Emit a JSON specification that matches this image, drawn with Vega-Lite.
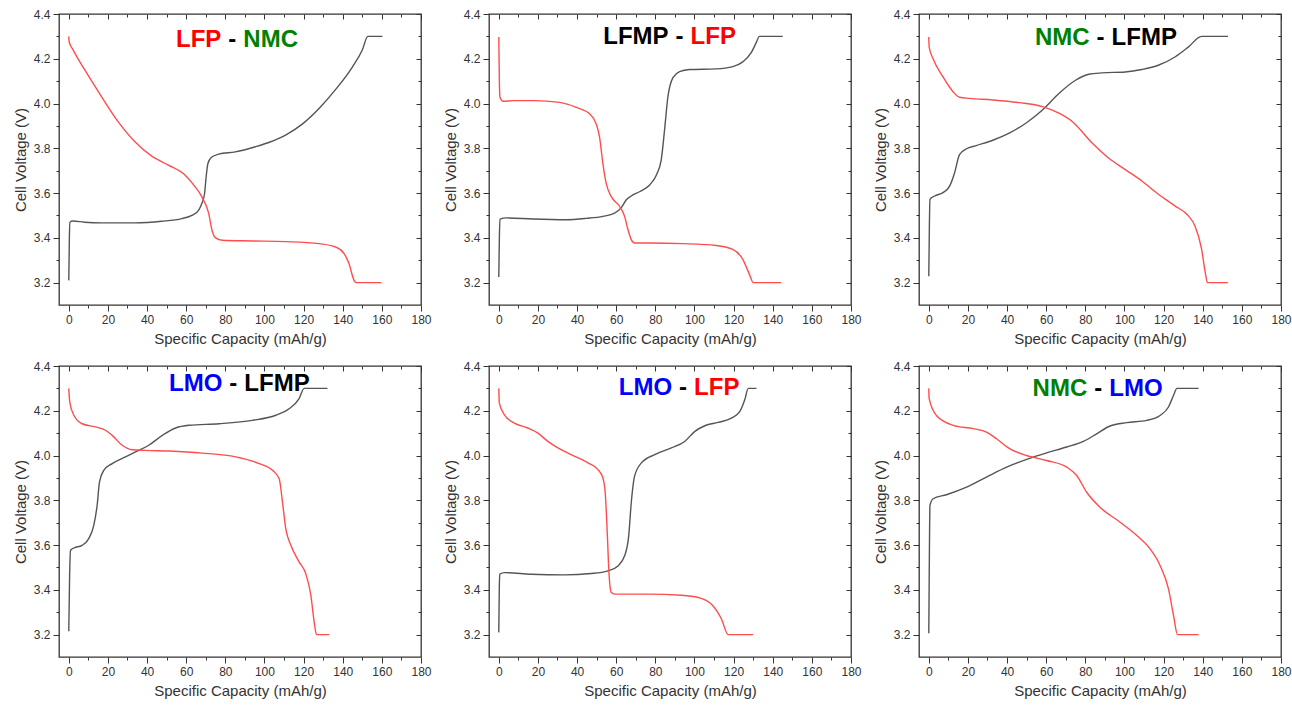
{
"$schema":"https://vega.github.io/schema/vega-lite/v6.json",
"background":"white",
"padding":{"left":12,"top":7,"right":5,"bottom":5},
"bounds":"flush",
"columns":3,
"spacing":{"row":61,"column":68},
"datasets":{
"p1":[
{"curve":"charge","cap":0,"volt":3.21},{"curve":"charge","cap":0.3,"volt":3.40},{"curve":"charge","cap":0.6,"volt":3.47},{"curve":"charge","cap":2,"volt":3.475},{"curve":"charge","cap":8,"volt":3.47},{"curve":"charge","cap":16.8,"volt":3.467},{"curve":"charge","cap":33.8,"volt":3.467},{"curve":"charge","cap":47.5,"volt":3.474},{"curve":"charge","cap":57.8,"volt":3.486},{"curve":"charge","cap":62.9,"volt":3.50},{"curve":"charge","cap":66.3,"volt":3.523},{"curve":"charge","cap":68,"volt":3.553},{"curve":"charge","cap":69.4,"volt":3.598},{"curve":"charge","cap":70.2,"volt":3.673},{"curve":"charge","cap":71.1,"volt":3.732},{"curve":"charge","cap":72.8,"volt":3.759},{"curve":"charge","cap":76.6,"volt":3.774},{"curve":"charge","cap":85.1,"volt":3.784},{"curve":"charge","cap":95.4,"volt":3.807},{"curve":"charge","cap":102.2,"volt":3.826},{"curve":"charge","cap":110.8,"volt":3.859},{"curve":"charge","cap":119.3,"volt":3.908},{"curve":"charge","cap":127.9,"volt":3.978},{"curve":"charge","cap":136.4,"volt":4.063},{"curve":"charge","cap":145,"volt":4.164},{"curve":"charge","cap":150,"volt":4.239},{"curve":"charge","cap":152.8,"volt":4.30},{"curve":"charge","cap":160.3,"volt":4.30},
{"curve":"discharge","cap":0,"volt":4.30},{"curve":"discharge","cap":0.2,"volt":4.276},{"curve":"discharge","cap":2.2,"volt":4.24},{"curve":"discharge","cap":8.2,"volt":4.15},{"curve":"discharge","cap":16.8,"volt":4.03},{"curve":"discharge","cap":25.3,"volt":3.918},{"curve":"discharge","cap":33.8,"volt":3.829},{"curve":"discharge","cap":42.4,"volt":3.765},{"curve":"discharge","cap":50.9,"volt":3.725},{"curve":"discharge","cap":59.5,"volt":3.68},{"curve":"discharge","cap":64.6,"volt":3.628},{"curve":"discharge","cap":68,"volt":3.583},{"curve":"discharge","cap":71.5,"volt":3.509},{"curve":"discharge","cap":73.2,"volt":3.434},{"curve":"discharge","cap":74.9,"volt":3.401},{"curve":"discharge","cap":78.3,"volt":3.389},{"curve":"discharge","cap":93.7,"volt":3.386},{"curve":"discharge","cap":110.8,"volt":3.383},{"curve":"discharge","cap":127.9,"volt":3.374},{"curve":"discharge","cap":136.4,"volt":3.359},{"curve":"discharge","cap":140.7,"volt":3.33},{"curve":"discharge","cap":143.2,"volt":3.285},{"curve":"discharge","cap":145.8,"volt":3.21},{"curve":"discharge","cap":146.7,"volt":3.20},{"curve":"discharge","cap":159.8,"volt":3.20}
],
"p2":[
{"curve":"charge","cap":0,"volt":3.225},{"curve":"charge","cap":0.3,"volt":3.40},{"curve":"charge","cap":0.6,"volt":3.484},{"curve":"charge","cap":3.9,"volt":3.489},{"curve":"charge","cap":17.5,"volt":3.484},{"curve":"charge","cap":34.5,"volt":3.481},{"curve":"charge","cap":44.7,"volt":3.487},{"curve":"charge","cap":53.2,"volt":3.496},{"curve":"charge","cap":59.2,"volt":3.51},{"curve":"charge","cap":62.6,"volt":3.535},{"curve":"charge","cap":65.2,"volt":3.57},{"curve":"charge","cap":67.7,"volt":3.587},{"curve":"charge","cap":71.9,"volt":3.606},{"curve":"charge","cap":77.1,"volt":3.636},{"curve":"charge","cap":80.5,"volt":3.68},{"curve":"charge","cap":83,"volt":3.747},{"curve":"charge","cap":84.7,"volt":3.88},{"curve":"charge","cap":86.4,"volt":4.028},{"curve":"charge","cap":89,"volt":4.116},{"curve":"charge","cap":92.4,"volt":4.143},{"curve":"charge","cap":97.5,"volt":4.152},{"curve":"charge","cap":111,"volt":4.155},{"curve":"charge","cap":119.6,"volt":4.165},{"curve":"charge","cap":124.7,"volt":4.186},{"curve":"charge","cap":129,"volt":4.227},{"curve":"charge","cap":131.5,"volt":4.271},{"curve":"charge","cap":133.2,"volt":4.30},{"curve":"charge","cap":145.1,"volt":4.30},
{"curve":"discharge","cap":0,"volt":4.297},{"curve":"discharge","cap":0.3,"volt":4.10},{"curve":"discharge","cap":0.6,"volt":4.028},{"curve":"discharge","cap":2.2,"volt":4.01},{"curve":"discharge","cap":7.3,"volt":4.013},{"curve":"discharge","cap":17.5,"volt":4.013},{"curve":"discharge","cap":31.1,"volt":4.005},{"curve":"discharge","cap":39.6,"volt":3.983},{"curve":"discharge","cap":46.4,"volt":3.954},{"curve":"discharge","cap":49.8,"volt":3.909},{"curve":"discharge","cap":51.5,"volt":3.85},{"curve":"discharge","cap":53.2,"volt":3.732},{"curve":"discharge","cap":54.9,"volt":3.643},{"curve":"discharge","cap":57.5,"volt":3.584},{"curve":"discharge","cap":61.8,"volt":3.54},{"curve":"discharge","cap":64.3,"volt":3.496},{"curve":"discharge","cap":66,"volt":3.437},{"curve":"discharge","cap":67.7,"volt":3.392},{"curve":"discharge","cap":69.4,"volt":3.377},{"curve":"discharge","cap":77.1,"volt":3.377},{"curve":"discharge","cap":94.1,"volt":3.374},{"curve":"discharge","cap":111.1,"volt":3.366},{"curve":"discharge","cap":119.6,"volt":3.348},{"curve":"discharge","cap":124.7,"volt":3.304},{"curve":"discharge","cap":128.1,"volt":3.237},{"curve":"discharge","cap":130.1,"volt":3.20},{"curve":"discharge","cap":144.3,"volt":3.20}
],
"p3":[
{"curve":"charge","cap":0,"volt":3.228},{"curve":"charge","cap":0.3,"volt":3.45},{"curve":"charge","cap":0.6,"volt":3.572},{"curve":"charge","cap":3,"volt":3.587},{"curve":"charge","cap":7.3,"volt":3.602},{"curve":"charge","cap":10.7,"volt":3.632},{"curve":"charge","cap":13.2,"volt":3.691},{"curve":"charge","cap":15.7,"volt":3.772},{"curve":"charge","cap":19.1,"volt":3.797},{"curve":"charge","cap":24.2,"volt":3.812},{"curve":"charge","cap":32.7,"volt":3.836},{"curve":"charge","cap":41.1,"volt":3.868},{"curve":"charge","cap":49.6,"volt":3.912},{"curve":"charge","cap":58.1,"volt":3.971},{"curve":"charge","cap":66.5,"volt":4.045},{"curve":"charge","cap":75,"volt":4.104},{"curve":"charge","cap":81.8,"volt":4.131},{"curve":"charge","cap":88.6,"volt":4.137},{"curve":"charge","cap":100.4,"volt":4.141},{"curve":"charge","cap":108.9,"volt":4.152},{"curve":"charge","cap":117.3,"volt":4.171},{"curve":"charge","cap":125.8,"volt":4.208},{"curve":"charge","cap":132.6,"volt":4.252},{"curve":"charge","cap":139.4,"volt":4.30},{"curve":"charge","cap":152.9,"volt":4.30},
{"curve":"discharge","cap":0,"volt":4.297},{"curve":"discharge","cap":0.2,"volt":4.252},{"curve":"discharge","cap":2.2,"volt":4.2},{"curve":"discharge","cap":7.3,"volt":4.119},{"curve":"discharge","cap":12.4,"volt":4.053},{"curve":"discharge","cap":15.7,"volt":4.028},{"curve":"discharge","cap":20.8,"volt":4.023},{"curve":"discharge","cap":32.7,"volt":4.016},{"curve":"discharge","cap":46.2,"volt":4.004},{"curve":"discharge","cap":58.1,"volt":3.986},{"curve":"discharge","cap":66.5,"volt":3.957},{"curve":"discharge","cap":73.3,"volt":3.92},{"curve":"discharge","cap":83.5,"volt":3.824},{"curve":"discharge","cap":91.9,"volt":3.757},{"curve":"discharge","cap":100.4,"volt":3.705},{"curve":"discharge","cap":108.9,"volt":3.654},{"curve":"discharge","cap":117.3,"volt":3.595},{"curve":"discharge","cap":125.8,"volt":3.543},{"curve":"discharge","cap":132.6,"volt":3.499},{"curve":"discharge","cap":136,"volt":3.454},{"curve":"discharge","cap":139.4,"volt":3.351},{"curve":"discharge","cap":141.4,"volt":3.24},{"curve":"discharge","cap":142.4,"volt":3.20},{"curve":"discharge","cap":152.9,"volt":3.20}
],
"p4":[
{"curve":"charge","cap":0,"volt":3.215},{"curve":"charge","cap":0.4,"volt":3.45},{"curve":"charge","cap":0.9,"volt":3.577},{"curve":"charge","cap":2.6,"volt":3.587},{"curve":"charge","cap":6.8,"volt":3.599},{"curve":"charge","cap":10.2,"volt":3.629},{"curve":"charge","cap":12.8,"volt":3.689},{"curve":"charge","cap":14.5,"volt":3.778},{"curve":"charge","cap":15.7,"volt":3.882},{"curve":"charge","cap":17.9,"volt":3.934},{"curve":"charge","cap":22.2,"volt":3.964},{"curve":"charge","cap":29,"volt":3.994},{"curve":"charge","cap":34.1,"volt":4.016},{"curve":"charge","cap":40.9,"volt":4.046},{"curve":"charge","cap":47.8,"volt":4.09},{"curve":"charge","cap":54.6,"volt":4.123},{"curve":"charge","cap":61.4,"volt":4.135},{"curve":"charge","cap":76.8,"volt":4.142},{"curve":"charge","cap":93.8,"volt":4.157},{"curve":"charge","cap":105.8,"volt":4.18},{"curve":"charge","cap":112.6,"volt":4.209},{"curve":"charge","cap":117.7,"volt":4.254},{"curve":"charge","cap":120.3,"volt":4.30},{"curve":"charge","cap":132.2,"volt":4.30},
{"curve":"discharge","cap":0,"volt":4.30},{"curve":"discharge","cap":0.5,"volt":4.239},{"curve":"discharge","cap":2.6,"volt":4.18},{"curve":"discharge","cap":6.8,"volt":4.142},{"curve":"discharge","cap":13.6,"volt":4.128},{"curve":"discharge","cap":18.8,"volt":4.113},{"curve":"discharge","cap":22.2,"volt":4.09},{"curve":"discharge","cap":27.3,"volt":4.046},{"curve":"discharge","cap":32.4,"volt":4.026},{"curve":"discharge","cap":39.2,"volt":4.023},{"curve":"discharge","cap":51.2,"volt":4.02},{"curve":"discharge","cap":68.2,"volt":4.011},{"curve":"discharge","cap":85.3,"volt":3.994},{"curve":"discharge","cap":97.3,"volt":3.964},{"curve":"discharge","cap":104.1,"volt":3.934},{"curve":"discharge","cap":107.5,"volt":3.897},{"curve":"discharge","cap":109.2,"volt":3.793},{"curve":"discharge","cap":110.9,"volt":3.673},{"curve":"discharge","cap":113.5,"volt":3.599},{"curve":"discharge","cap":117.7,"volt":3.525},{"curve":"discharge","cap":121.1,"volt":3.473},{"curve":"discharge","cap":123.7,"volt":3.376},{"curve":"discharge","cap":125.4,"volt":3.257},{"curve":"discharge","cap":126.6,"volt":3.20},{"curve":"discharge","cap":133.1,"volt":3.20}
],
"p5":[
{"curve":"charge","cap":0,"volt":3.21},{"curve":"charge","cap":0.25,"volt":3.40},{"curve":"charge","cap":0.5,"volt":3.47},{"curve":"charge","cap":2.9,"volt":3.477},{"curve":"charge","cap":16.5,"volt":3.47},{"curve":"charge","cap":33.6,"volt":3.467},{"curve":"charge","cap":47.3,"volt":3.473},{"curve":"charge","cap":55.8,"volt":3.485},{"curve":"charge","cap":60.9,"volt":3.507},{"curve":"charge","cap":64.3,"volt":3.552},{"curve":"charge","cap":66.4,"volt":3.641},{"curve":"charge","cap":67.7,"volt":3.789},{"curve":"charge","cap":69.4,"volt":3.908},{"curve":"charge","cap":72.9,"volt":3.967},{"curve":"charge","cap":79.7,"volt":4.004},{"curve":"charge","cap":88.2,"volt":4.034},{"curve":"charge","cap":95,"volt":4.063},{"curve":"charge","cap":100.2,"volt":4.108},{"curve":"charge","cap":105.3,"volt":4.133},{"curve":"charge","cap":112.1,"volt":4.148},{"curve":"charge","cap":118.9,"volt":4.167},{"curve":"charge","cap":123.2,"volt":4.197},{"curve":"charge","cap":125.7,"volt":4.249},{"curve":"charge","cap":127.5,"volt":4.30},{"curve":"charge","cap":131.7,"volt":4.30},
{"curve":"discharge","cap":0,"volt":4.30},{"curve":"discharge","cap":0.3,"volt":4.234},{"curve":"discharge","cap":2.9,"volt":4.182},{"curve":"discharge","cap":8,"volt":4.145},{"curve":"discharge","cap":14.8,"volt":4.123},{"curve":"discharge","cap":20,"volt":4.1},{"curve":"discharge","cap":25.1,"volt":4.063},{"curve":"discharge","cap":30.2,"volt":4.034},{"curve":"discharge","cap":37,"volt":4.004},{"curve":"discharge","cap":45.6,"volt":3.967},{"curve":"discharge","cap":50.7,"volt":3.937},{"curve":"discharge","cap":53.2,"volt":3.9},{"curve":"discharge","cap":54.4,"volt":3.833},{"curve":"discharge","cap":55.5,"volt":3.641},{"curve":"discharge","cap":56.3,"volt":3.477},{"curve":"discharge","cap":57.5,"volt":3.388},{"curve":"discharge","cap":59.2,"volt":3.381},{"curve":"discharge","cap":76.3,"volt":3.381},{"curve":"discharge","cap":93.3,"volt":3.376},{"curve":"discharge","cap":101.9,"volt":3.366},{"curve":"discharge","cap":108.7,"volt":3.336},{"curve":"discharge","cap":113.8,"volt":3.27},{"curve":"discharge","cap":117.2,"volt":3.20},{"curve":"discharge","cap":130,"volt":3.20}
],
"p6":[
{"curve":"charge","cap":0,"volt":3.206},{"curve":"charge","cap":0.3,"volt":3.55},{"curve":"charge","cap":0.6,"volt":3.777},{"curve":"charge","cap":2.2,"volt":3.807},{"curve":"charge","cap":9,"volt":3.825},{"curve":"charge","cap":19.3,"volt":3.859},{"curve":"charge","cap":29.5,"volt":3.904},{"curve":"charge","cap":39.8,"volt":3.948},{"curve":"charge","cap":50,"volt":3.983},{"curve":"charge","cap":60.2,"volt":4.012},{"curve":"charge","cap":70.5,"volt":4.038},{"curve":"charge","cap":79,"volt":4.063},{"curve":"charge","cap":85.8,"volt":4.097},{"curve":"charge","cap":92.6,"volt":4.132},{"curve":"charge","cap":101.2,"volt":4.147},{"curve":"charge","cap":111.4,"volt":4.157},{"curve":"charge","cap":118.2,"volt":4.179},{"curve":"charge","cap":122.5,"volt":4.217},{"curve":"charge","cap":125.1,"volt":4.269},{"curve":"charge","cap":126.8,"volt":4.30},{"curve":"charge","cap":137.9,"volt":4.30},
{"curve":"discharge","cap":0,"volt":4.30},{"curve":"discharge","cap":0.2,"volt":4.254},{"curve":"discharge","cap":3.9,"volt":4.179},{"curve":"discharge","cap":12.5,"volt":4.135},{"curve":"discharge","cap":22.7,"volt":4.12},{"curve":"discharge","cap":29.5,"volt":4.105},{"curve":"discharge","cap":34.6,"volt":4.075},{"curve":"discharge","cap":41.5,"volt":4.03},{"curve":"discharge","cap":50,"volt":4.0},{"curve":"discharge","cap":60.2,"volt":3.978},{"curve":"discharge","cap":70.5,"volt":3.948},{"curve":"discharge","cap":75.6,"volt":3.911},{"curve":"discharge","cap":80.7,"volt":3.836},{"curve":"discharge","cap":87.5,"volt":3.769},{"curve":"discharge","cap":97.8,"volt":3.702},{"curve":"discharge","cap":106.3,"volt":3.643},{"curve":"discharge","cap":113.1,"volt":3.583},{"curve":"discharge","cap":118.2,"volt":3.509},{"curve":"discharge","cap":122.5,"volt":3.404},{"curve":"discharge","cap":125.1,"volt":3.285},{"curve":"discharge","cap":127.1,"volt":3.20},{"curve":"discharge","cap":137.9,"volt":3.20}
]
},
"concat":[
{"width":362,"height":291,"data":{"name":"p1"},"layer":[
{"mark":{"type":"line","strokeWidth":1.4,"interpolate":"monotone"},"encoding":{"x":{"field":"cap","type":"quantitative","scale":{"domain":[-5,180],"nice":false,"zero":false},"axis":{"orient":"bottom","values":[0,20,40,60,80,100,120,140,160,180],"tickSize":6,"labelPadding":3,"labelFlush":false,"title":"Specific Capacity (mAh/g)","titlePadding":6}},"y":{"field":"volt","type":"quantitative","scale":{"domain":[3.1,4.4],"nice":false,"zero":false},"axis":{"orient":"left","values":[3.2,3.4,3.6,3.8,4.0,4.2,4.4],"format":".1f","tickSize":6,"labelPadding":3,"title":"Cell Voltage (V)","titlePadding":5}},"color":{"field":"curve","type":"nominal","scale":{"domain":["charge","discharge"],"range":["#555555","#ff4d4d"]},"legend":null}}},
{"mark":{"type":"line","opacity":0},"encoding":{"x":{"field":"cap","type":"quantitative","scale":{"domain":[-5,180],"nice":false,"zero":false},"axis":{"orient":"bottom","values":[10,30,50,70,90,110,130,150,170],"tickSize":3,"labels":false,"title":null}},"y":{"field":"volt","type":"quantitative","scale":{"domain":[3.1,4.4],"nice":false,"zero":false},"axis":{"orient":"left","values":[3.3,3.5,3.7,3.9,4.1,4.3],"tickSize":3,"labels":false,"title":null}},"detail":{"field":"curve"}}},
{"mark":{"type":"line","opacity":0},"encoding":{"x":{"field":"cap","type":"quantitative","scale":{"domain":[-5,180],"nice":false,"zero":false},"axis":{"orient":"top","values":[0,20,40,60,80,100,120,140,160,180],"tickSize":-5,"labels":false,"title":null}},"y":{"field":"volt","type":"quantitative","scale":{"domain":[3.1,4.4],"nice":false,"zero":false},"axis":{"orient":"right","values":[3.2,3.4,3.6,3.8,4.0,4.2,4.4],"tickSize":-5,"labels":false,"title":null}},"detail":{"field":"curve"}}},
{"mark":{"type":"line","opacity":0},"encoding":{"x":{"field":"cap","type":"quantitative","scale":{"domain":[-5,180],"nice":false,"zero":false},"axis":{"orient":"top","values":[10,30,50,70,90,110,130,150,170],"tickSize":-3,"labels":false,"title":null}},"y":{"field":"volt","type":"quantitative","scale":{"domain":[3.1,4.4],"nice":false,"zero":false},"axis":{"orient":"right","values":[3.3,3.5,3.7,3.9,4.1,4.3],"tickSize":-3,"labels":false,"title":null}},"detail":{"field":"curve"}}},
{"data":{"values":[{"t":"LFP"}]},"mark":{"type":"text","align":"right","baseline":"alphabetic","dx":-11,"fontSize":24,"fontWeight":"bold","color":"#ff0000"},"encoding":{"text":{"field":"t"},"x":{"datum":83.6,"scale":{"domain":[-5,180],"nice":false,"zero":false},"axis":null},"y":{"datum":4.253,"scale":{"domain":[3.1,4.4],"nice":false,"zero":false},"axis":null}}},
{"data":{"values":[{"t":"-"}]},"mark":{"type":"text","align":"center","baseline":"alphabetic","fontSize":24,"fontWeight":"bold","color":"#000000"},"encoding":{"text":{"field":"t"},"x":{"datum":83.6,"scale":{"domain":[-5,180],"nice":false,"zero":false},"axis":null},"y":{"datum":4.253,"scale":{"domain":[3.1,4.4],"nice":false,"zero":false},"axis":null}}},
{"data":{"values":[{"t":"NMC"}]},"mark":{"type":"text","align":"left","baseline":"alphabetic","dx":11,"fontSize":24,"fontWeight":"bold","color":"#008000"},"encoding":{"text":{"field":"t"},"x":{"datum":83.6,"scale":{"domain":[-5,180],"nice":false,"zero":false},"axis":null},"y":{"datum":4.253,"scale":{"domain":[3.1,4.4],"nice":false,"zero":false},"axis":null}}}
],"resolve":{"axis":{"x":"independent","y":"independent"}}},
{"width":362,"height":291,"data":{"name":"p2"},"layer":[
{"mark":{"type":"line","strokeWidth":1.4,"interpolate":"monotone"},"encoding":{"x":{"field":"cap","type":"quantitative","scale":{"domain":[-5,180],"nice":false,"zero":false},"axis":{"orient":"bottom","values":[0,20,40,60,80,100,120,140,160,180],"tickSize":6,"labelPadding":3,"labelFlush":false,"title":"Specific Capacity (mAh/g)","titlePadding":6}},"y":{"field":"volt","type":"quantitative","scale":{"domain":[3.1,4.4],"nice":false,"zero":false},"axis":{"orient":"left","values":[3.2,3.4,3.6,3.8,4.0,4.2,4.4],"format":".1f","tickSize":6,"labelPadding":3,"title":"Cell Voltage (V)","titlePadding":5}},"color":{"field":"curve","type":"nominal","scale":{"domain":["charge","discharge"],"range":["#555555","#ff4d4d"]},"legend":null}}},
{"mark":{"type":"line","opacity":0},"encoding":{"x":{"field":"cap","type":"quantitative","scale":{"domain":[-5,180],"nice":false,"zero":false},"axis":{"orient":"bottom","values":[10,30,50,70,90,110,130,150,170],"tickSize":3,"labels":false,"title":null}},"y":{"field":"volt","type":"quantitative","scale":{"domain":[3.1,4.4],"nice":false,"zero":false},"axis":{"orient":"left","values":[3.3,3.5,3.7,3.9,4.1,4.3],"tickSize":3,"labels":false,"title":null}},"detail":{"field":"curve"}}},
{"mark":{"type":"line","opacity":0},"encoding":{"x":{"field":"cap","type":"quantitative","scale":{"domain":[-5,180],"nice":false,"zero":false},"axis":{"orient":"top","values":[0,20,40,60,80,100,120,140,160,180],"tickSize":-5,"labels":false,"title":null}},"y":{"field":"volt","type":"quantitative","scale":{"domain":[3.1,4.4],"nice":false,"zero":false},"axis":{"orient":"right","values":[3.2,3.4,3.6,3.8,4.0,4.2,4.4],"tickSize":-5,"labels":false,"title":null}},"detail":{"field":"curve"}}},
{"mark":{"type":"line","opacity":0},"encoding":{"x":{"field":"cap","type":"quantitative","scale":{"domain":[-5,180],"nice":false,"zero":false},"axis":{"orient":"top","values":[10,30,50,70,90,110,130,150,170],"tickSize":-3,"labels":false,"title":null}},"y":{"field":"volt","type":"quantitative","scale":{"domain":[3.1,4.4],"nice":false,"zero":false},"axis":{"orient":"right","values":[3.3,3.5,3.7,3.9,4.1,4.3],"tickSize":-3,"labels":false,"title":null}},"detail":{"field":"curve"}}},
{"data":{"values":[{"t":"LFMP"}]},"mark":{"type":"text","align":"right","baseline":"alphabetic","dx":-11,"fontSize":24,"fontWeight":"bold","color":"#000000"},"encoding":{"text":{"field":"t"},"x":{"datum":92.4,"scale":{"domain":[-5,180],"nice":false,"zero":false},"axis":null},"y":{"datum":4.264,"scale":{"domain":[3.1,4.4],"nice":false,"zero":false},"axis":null}}},
{"data":{"values":[{"t":"-"}]},"mark":{"type":"text","align":"center","baseline":"alphabetic","fontSize":24,"fontWeight":"bold","color":"#000000"},"encoding":{"text":{"field":"t"},"x":{"datum":92.4,"scale":{"domain":[-5,180],"nice":false,"zero":false},"axis":null},"y":{"datum":4.264,"scale":{"domain":[3.1,4.4],"nice":false,"zero":false},"axis":null}}},
{"data":{"values":[{"t":"LFP"}]},"mark":{"type":"text","align":"left","baseline":"alphabetic","dx":11,"fontSize":24,"fontWeight":"bold","color":"#ff0000"},"encoding":{"text":{"field":"t"},"x":{"datum":92.4,"scale":{"domain":[-5,180],"nice":false,"zero":false},"axis":null},"y":{"datum":4.264,"scale":{"domain":[3.1,4.4],"nice":false,"zero":false},"axis":null}}}
],"resolve":{"axis":{"x":"independent","y":"independent"}}},
{"width":362,"height":291,"data":{"name":"p3"},"layer":[
{"mark":{"type":"line","strokeWidth":1.4,"interpolate":"monotone"},"encoding":{"x":{"field":"cap","type":"quantitative","scale":{"domain":[-5,180],"nice":false,"zero":false},"axis":{"orient":"bottom","values":[0,20,40,60,80,100,120,140,160,180],"tickSize":6,"labelPadding":3,"labelFlush":false,"title":"Specific Capacity (mAh/g)","titlePadding":6}},"y":{"field":"volt","type":"quantitative","scale":{"domain":[3.1,4.4],"nice":false,"zero":false},"axis":{"orient":"left","values":[3.2,3.4,3.6,3.8,4.0,4.2,4.4],"format":".1f","tickSize":6,"labelPadding":3,"title":"Cell Voltage (V)","titlePadding":5}},"color":{"field":"curve","type":"nominal","scale":{"domain":["charge","discharge"],"range":["#555555","#ff4d4d"]},"legend":null}}},
{"mark":{"type":"line","opacity":0},"encoding":{"x":{"field":"cap","type":"quantitative","scale":{"domain":[-5,180],"nice":false,"zero":false},"axis":{"orient":"bottom","values":[10,30,50,70,90,110,130,150,170],"tickSize":3,"labels":false,"title":null}},"y":{"field":"volt","type":"quantitative","scale":{"domain":[3.1,4.4],"nice":false,"zero":false},"axis":{"orient":"left","values":[3.3,3.5,3.7,3.9,4.1,4.3],"tickSize":3,"labels":false,"title":null}},"detail":{"field":"curve"}}},
{"mark":{"type":"line","opacity":0},"encoding":{"x":{"field":"cap","type":"quantitative","scale":{"domain":[-5,180],"nice":false,"zero":false},"axis":{"orient":"top","values":[0,20,40,60,80,100,120,140,160,180],"tickSize":-5,"labels":false,"title":null}},"y":{"field":"volt","type":"quantitative","scale":{"domain":[3.1,4.4],"nice":false,"zero":false},"axis":{"orient":"right","values":[3.2,3.4,3.6,3.8,4.0,4.2,4.4],"tickSize":-5,"labels":false,"title":null}},"detail":{"field":"curve"}}},
{"mark":{"type":"line","opacity":0},"encoding":{"x":{"field":"cap","type":"quantitative","scale":{"domain":[-5,180],"nice":false,"zero":false},"axis":{"orient":"top","values":[10,30,50,70,90,110,130,150,170],"tickSize":-3,"labels":false,"title":null}},"y":{"field":"volt","type":"quantitative","scale":{"domain":[3.1,4.4],"nice":false,"zero":false},"axis":{"orient":"right","values":[3.3,3.5,3.7,3.9,4.1,4.3],"tickSize":-3,"labels":false,"title":null}},"detail":{"field":"curve"}}},
{"data":{"values":[{"t":"NMC"}]},"mark":{"type":"text","align":"right","baseline":"alphabetic","dx":-11,"fontSize":24,"fontWeight":"bold","color":"#008000"},"encoding":{"text":{"field":"t"},"x":{"datum":87.8,"scale":{"domain":[-5,180],"nice":false,"zero":false},"axis":null},"y":{"datum":4.263,"scale":{"domain":[3.1,4.4],"nice":false,"zero":false},"axis":null}}},
{"data":{"values":[{"t":"-"}]},"mark":{"type":"text","align":"center","baseline":"alphabetic","fontSize":24,"fontWeight":"bold","color":"#000000"},"encoding":{"text":{"field":"t"},"x":{"datum":87.8,"scale":{"domain":[-5,180],"nice":false,"zero":false},"axis":null},"y":{"datum":4.263,"scale":{"domain":[3.1,4.4],"nice":false,"zero":false},"axis":null}}},
{"data":{"values":[{"t":"LFMP"}]},"mark":{"type":"text","align":"left","baseline":"alphabetic","dx":11,"fontSize":24,"fontWeight":"bold","color":"#000000"},"encoding":{"text":{"field":"t"},"x":{"datum":87.8,"scale":{"domain":[-5,180],"nice":false,"zero":false},"axis":null},"y":{"datum":4.263,"scale":{"domain":[3.1,4.4],"nice":false,"zero":false},"axis":null}}}
],"resolve":{"axis":{"x":"independent","y":"independent"}}},
{"width":362,"height":291,"data":{"name":"p4"},"layer":[
{"mark":{"type":"line","strokeWidth":1.4,"interpolate":"monotone"},"encoding":{"x":{"field":"cap","type":"quantitative","scale":{"domain":[-5,180],"nice":false,"zero":false},"axis":{"orient":"bottom","values":[0,20,40,60,80,100,120,140,160,180],"tickSize":6,"labelPadding":3,"labelFlush":false,"title":"Specific Capacity (mAh/g)","titlePadding":6}},"y":{"field":"volt","type":"quantitative","scale":{"domain":[3.1,4.4],"nice":false,"zero":false},"axis":{"orient":"left","values":[3.2,3.4,3.6,3.8,4.0,4.2,4.4],"format":".1f","tickSize":6,"labelPadding":3,"title":"Cell Voltage (V)","titlePadding":5}},"color":{"field":"curve","type":"nominal","scale":{"domain":["charge","discharge"],"range":["#555555","#ff4d4d"]},"legend":null}}},
{"mark":{"type":"line","opacity":0},"encoding":{"x":{"field":"cap","type":"quantitative","scale":{"domain":[-5,180],"nice":false,"zero":false},"axis":{"orient":"bottom","values":[10,30,50,70,90,110,130,150,170],"tickSize":3,"labels":false,"title":null}},"y":{"field":"volt","type":"quantitative","scale":{"domain":[3.1,4.4],"nice":false,"zero":false},"axis":{"orient":"left","values":[3.3,3.5,3.7,3.9,4.1,4.3],"tickSize":3,"labels":false,"title":null}},"detail":{"field":"curve"}}},
{"mark":{"type":"line","opacity":0},"encoding":{"x":{"field":"cap","type":"quantitative","scale":{"domain":[-5,180],"nice":false,"zero":false},"axis":{"orient":"top","values":[0,20,40,60,80,100,120,140,160,180],"tickSize":-5,"labels":false,"title":null}},"y":{"field":"volt","type":"quantitative","scale":{"domain":[3.1,4.4],"nice":false,"zero":false},"axis":{"orient":"right","values":[3.2,3.4,3.6,3.8,4.0,4.2,4.4],"tickSize":-5,"labels":false,"title":null}},"detail":{"field":"curve"}}},
{"mark":{"type":"line","opacity":0},"encoding":{"x":{"field":"cap","type":"quantitative","scale":{"domain":[-5,180],"nice":false,"zero":false},"axis":{"orient":"top","values":[10,30,50,70,90,110,130,150,170],"tickSize":-3,"labels":false,"title":null}},"y":{"field":"volt","type":"quantitative","scale":{"domain":[3.1,4.4],"nice":false,"zero":false},"axis":{"orient":"right","values":[3.3,3.5,3.7,3.9,4.1,4.3],"tickSize":-3,"labels":false,"title":null}},"detail":{"field":"curve"}}},
{"data":{"values":[{"t":"LMO"}]},"mark":{"type":"text","align":"right","baseline":"alphabetic","dx":-11,"fontSize":24,"fontWeight":"bold","color":"#0000ff"},"encoding":{"text":{"field":"t"},"x":{"datum":84.1,"scale":{"domain":[-5,180],"nice":false,"zero":false},"axis":null},"y":{"datum":4.288,"scale":{"domain":[3.1,4.4],"nice":false,"zero":false},"axis":null}}},
{"data":{"values":[{"t":"-"}]},"mark":{"type":"text","align":"center","baseline":"alphabetic","fontSize":24,"fontWeight":"bold","color":"#000000"},"encoding":{"text":{"field":"t"},"x":{"datum":84.1,"scale":{"domain":[-5,180],"nice":false,"zero":false},"axis":null},"y":{"datum":4.288,"scale":{"domain":[3.1,4.4],"nice":false,"zero":false},"axis":null}}},
{"data":{"values":[{"t":"LFMP"}]},"mark":{"type":"text","align":"left","baseline":"alphabetic","dx":11,"fontSize":24,"fontWeight":"bold","color":"#000000"},"encoding":{"text":{"field":"t"},"x":{"datum":84.1,"scale":{"domain":[-5,180],"nice":false,"zero":false},"axis":null},"y":{"datum":4.288,"scale":{"domain":[3.1,4.4],"nice":false,"zero":false},"axis":null}}}
],"resolve":{"axis":{"x":"independent","y":"independent"}}},
{"width":362,"height":291,"data":{"name":"p5"},"layer":[
{"mark":{"type":"line","strokeWidth":1.4,"interpolate":"monotone"},"encoding":{"x":{"field":"cap","type":"quantitative","scale":{"domain":[-5,180],"nice":false,"zero":false},"axis":{"orient":"bottom","values":[0,20,40,60,80,100,120,140,160,180],"tickSize":6,"labelPadding":3,"labelFlush":false,"title":"Specific Capacity (mAh/g)","titlePadding":6}},"y":{"field":"volt","type":"quantitative","scale":{"domain":[3.1,4.4],"nice":false,"zero":false},"axis":{"orient":"left","values":[3.2,3.4,3.6,3.8,4.0,4.2,4.4],"format":".1f","tickSize":6,"labelPadding":3,"title":"Cell Voltage (V)","titlePadding":5}},"color":{"field":"curve","type":"nominal","scale":{"domain":["charge","discharge"],"range":["#555555","#ff4d4d"]},"legend":null}}},
{"mark":{"type":"line","opacity":0},"encoding":{"x":{"field":"cap","type":"quantitative","scale":{"domain":[-5,180],"nice":false,"zero":false},"axis":{"orient":"bottom","values":[10,30,50,70,90,110,130,150,170],"tickSize":3,"labels":false,"title":null}},"y":{"field":"volt","type":"quantitative","scale":{"domain":[3.1,4.4],"nice":false,"zero":false},"axis":{"orient":"left","values":[3.3,3.5,3.7,3.9,4.1,4.3],"tickSize":3,"labels":false,"title":null}},"detail":{"field":"curve"}}},
{"mark":{"type":"line","opacity":0},"encoding":{"x":{"field":"cap","type":"quantitative","scale":{"domain":[-5,180],"nice":false,"zero":false},"axis":{"orient":"top","values":[0,20,40,60,80,100,120,140,160,180],"tickSize":-5,"labels":false,"title":null}},"y":{"field":"volt","type":"quantitative","scale":{"domain":[3.1,4.4],"nice":false,"zero":false},"axis":{"orient":"right","values":[3.2,3.4,3.6,3.8,4.0,4.2,4.4],"tickSize":-5,"labels":false,"title":null}},"detail":{"field":"curve"}}},
{"mark":{"type":"line","opacity":0},"encoding":{"x":{"field":"cap","type":"quantitative","scale":{"domain":[-5,180],"nice":false,"zero":false},"axis":{"orient":"top","values":[10,30,50,70,90,110,130,150,170],"tickSize":-3,"labels":false,"title":null}},"y":{"field":"volt","type":"quantitative","scale":{"domain":[3.1,4.4],"nice":false,"zero":false},"axis":{"orient":"right","values":[3.3,3.5,3.7,3.9,4.1,4.3],"tickSize":-3,"labels":false,"title":null}},"detail":{"field":"curve"}}},
{"data":{"values":[{"t":"LMO"}]},"mark":{"type":"text","align":"right","baseline":"alphabetic","dx":-11,"fontSize":24,"fontWeight":"bold","color":"#0000ff"},"encoding":{"text":{"field":"t"},"x":{"datum":94.2,"scale":{"domain":[-5,180],"nice":false,"zero":false},"axis":null},"y":{"datum":4.271,"scale":{"domain":[3.1,4.4],"nice":false,"zero":false},"axis":null}}},
{"data":{"values":[{"t":"-"}]},"mark":{"type":"text","align":"center","baseline":"alphabetic","fontSize":24,"fontWeight":"bold","color":"#000000"},"encoding":{"text":{"field":"t"},"x":{"datum":94.2,"scale":{"domain":[-5,180],"nice":false,"zero":false},"axis":null},"y":{"datum":4.271,"scale":{"domain":[3.1,4.4],"nice":false,"zero":false},"axis":null}}},
{"data":{"values":[{"t":"LFP"}]},"mark":{"type":"text","align":"left","baseline":"alphabetic","dx":11,"fontSize":24,"fontWeight":"bold","color":"#ff0000"},"encoding":{"text":{"field":"t"},"x":{"datum":94.2,"scale":{"domain":[-5,180],"nice":false,"zero":false},"axis":null},"y":{"datum":4.271,"scale":{"domain":[3.1,4.4],"nice":false,"zero":false},"axis":null}}}
],"resolve":{"axis":{"x":"independent","y":"independent"}}},
{"width":362,"height":291,"data":{"name":"p6"},"layer":[
{"mark":{"type":"line","strokeWidth":1.4,"interpolate":"monotone"},"encoding":{"x":{"field":"cap","type":"quantitative","scale":{"domain":[-5,180],"nice":false,"zero":false},"axis":{"orient":"bottom","values":[0,20,40,60,80,100,120,140,160,180],"tickSize":6,"labelPadding":3,"labelFlush":false,"title":"Specific Capacity (mAh/g)","titlePadding":6}},"y":{"field":"volt","type":"quantitative","scale":{"domain":[3.1,4.4],"nice":false,"zero":false},"axis":{"orient":"left","values":[3.2,3.4,3.6,3.8,4.0,4.2,4.4],"format":".1f","tickSize":6,"labelPadding":3,"title":"Cell Voltage (V)","titlePadding":5}},"color":{"field":"curve","type":"nominal","scale":{"domain":["charge","discharge"],"range":["#555555","#ff4d4d"]},"legend":null}}},
{"mark":{"type":"line","opacity":0},"encoding":{"x":{"field":"cap","type":"quantitative","scale":{"domain":[-5,180],"nice":false,"zero":false},"axis":{"orient":"bottom","values":[10,30,50,70,90,110,130,150,170],"tickSize":3,"labels":false,"title":null}},"y":{"field":"volt","type":"quantitative","scale":{"domain":[3.1,4.4],"nice":false,"zero":false},"axis":{"orient":"left","values":[3.3,3.5,3.7,3.9,4.1,4.3],"tickSize":3,"labels":false,"title":null}},"detail":{"field":"curve"}}},
{"mark":{"type":"line","opacity":0},"encoding":{"x":{"field":"cap","type":"quantitative","scale":{"domain":[-5,180],"nice":false,"zero":false},"axis":{"orient":"top","values":[0,20,40,60,80,100,120,140,160,180],"tickSize":-5,"labels":false,"title":null}},"y":{"field":"volt","type":"quantitative","scale":{"domain":[3.1,4.4],"nice":false,"zero":false},"axis":{"orient":"right","values":[3.2,3.4,3.6,3.8,4.0,4.2,4.4],"tickSize":-5,"labels":false,"title":null}},"detail":{"field":"curve"}}},
{"mark":{"type":"line","opacity":0},"encoding":{"x":{"field":"cap","type":"quantitative","scale":{"domain":[-5,180],"nice":false,"zero":false},"axis":{"orient":"top","values":[10,30,50,70,90,110,130,150,170],"tickSize":-3,"labels":false,"title":null}},"y":{"field":"volt","type":"quantitative","scale":{"domain":[3.1,4.4],"nice":false,"zero":false},"axis":{"orient":"right","values":[3.3,3.5,3.7,3.9,4.1,4.3],"tickSize":-3,"labels":false,"title":null}},"detail":{"field":"curve"}}},
{"data":{"values":[{"t":"NMC"}]},"mark":{"type":"text","align":"right","baseline":"alphabetic","dx":-11,"fontSize":24,"fontWeight":"bold","color":"#008000"},"encoding":{"text":{"field":"t"},"x":{"datum":86.6,"scale":{"domain":[-5,180],"nice":false,"zero":false},"axis":null},"y":{"datum":4.264,"scale":{"domain":[3.1,4.4],"nice":false,"zero":false},"axis":null}}},
{"data":{"values":[{"t":"-"}]},"mark":{"type":"text","align":"center","baseline":"alphabetic","fontSize":24,"fontWeight":"bold","color":"#000000"},"encoding":{"text":{"field":"t"},"x":{"datum":86.6,"scale":{"domain":[-5,180],"nice":false,"zero":false},"axis":null},"y":{"datum":4.264,"scale":{"domain":[3.1,4.4],"nice":false,"zero":false},"axis":null}}},
{"data":{"values":[{"t":"LMO"}]},"mark":{"type":"text","align":"left","baseline":"alphabetic","dx":11,"fontSize":24,"fontWeight":"bold","color":"#0000ff"},"encoding":{"text":{"field":"t"},"x":{"datum":86.6,"scale":{"domain":[-5,180],"nice":false,"zero":false},"axis":null},"y":{"datum":4.264,"scale":{"domain":[3.1,4.4],"nice":false,"zero":false},"axis":null}}}
],"resolve":{"axis":{"x":"independent","y":"independent"}}}
],
"config":{
"font":"Liberation Sans",
"view":{"stroke":"#333333","strokeWidth":1.3},
"text":{"font":"Liberation Sans"},
"axis":{"grid":false,"domain":false,"labelFont":"Liberation Sans","labelFontSize":12,"labelColor":"#333333","titleFont":"Liberation Sans","titleFontSize":15,"titleFontWeight":"normal","titleColor":"#333333","tickColor":"#333333","tickWidth":1,"labelOverlap":false}
}
}
